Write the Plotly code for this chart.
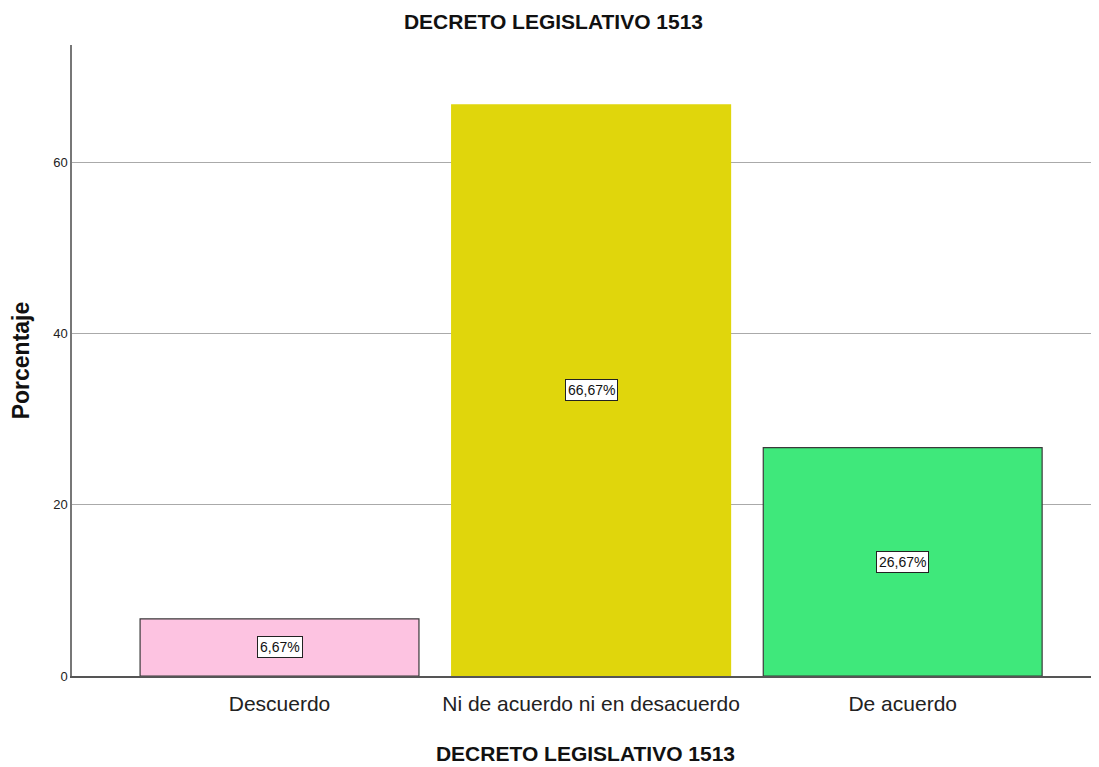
import plotly.graph_objects as go

categories = ["Descuerdo", "Ni de acuerdo ni en desacuerdo", "De acuerdo"]
percentages = [6.67, 66.67, 26.67]
bar_colors = ["#FDC3E1", "#E0D60C", "#3FE87B"]
line_colors = ["#3a3a3a", "#E0D60C", "#3a3a3a"]
y_ticks = [0, 20, 40, 60]

FONT = "Liberation Sans, Arial, sans-serif"

fig = go.Figure(
    go.Bar(
        x=categories,
        y=percentages,
        marker=dict(color=bar_colors, line=dict(color=line_colors, width=1.2)),
        width=0.895,
        hoverinfo="x+y",
    )
)

for cat, val in zip(categories, percentages):
    fig.add_annotation(
        x=cat, y=val / 2, text=f"{val:.2f}%".replace(".", ","),
        showarrow=False, bgcolor="white", bordercolor="#222", borderwidth=1,
        borderpad=2, font=dict(family=FONT, size=14, color="#111"),
    )

# the page body adds an 8px offset, so the figure is a bit smaller
fig.update_layout(
    width=1091, height=759,
    margin=dict(l=64, r=0, t=37, b=91),
    paper_bgcolor="white", plot_bgcolor="white",
    showlegend=False,
    font=dict(family=FONT, color="#111"),
    title=dict(text="<b>DECRETO LEGISLATIVO 1513</b>", x=0.5, xref="container",
               y=0.982, yref="container", yanchor="middle",
               font=dict(family=FONT, size=21, color="#111")),
)
fig.update_xaxes(
    range=[-0.666, 2.63],
    automargin=False,
    showline=True, linecolor="#555", linewidth=1.5,
    showgrid=False, ticks="", ticklabelstandoff=8,
    tickfont=dict(family=FONT, size=21, color="#222"),
    title=dict(text="<b>DECRETO LEGISLATIVO 1513</b>", standoff=32,
               font=dict(family=FONT, size=21, color="#111")),
)
fig.update_yaxes(
    range=[0, 73.66],
    automargin=False,
    tickvals=y_ticks,
    showline=True, linecolor="#777", linewidth=1.5,
    showgrid=True, gridcolor="#aaaaaa", gridwidth=1,
    zeroline=False, ticks="",
    tickfont=dict(family=FONT, size=13, color="#222"),
    title=dict(text="<b>Porcentaje</b>", standoff=22,
               font=dict(family=FONT, size=23, color="#111")),
)

fig.write_html("out.html")
